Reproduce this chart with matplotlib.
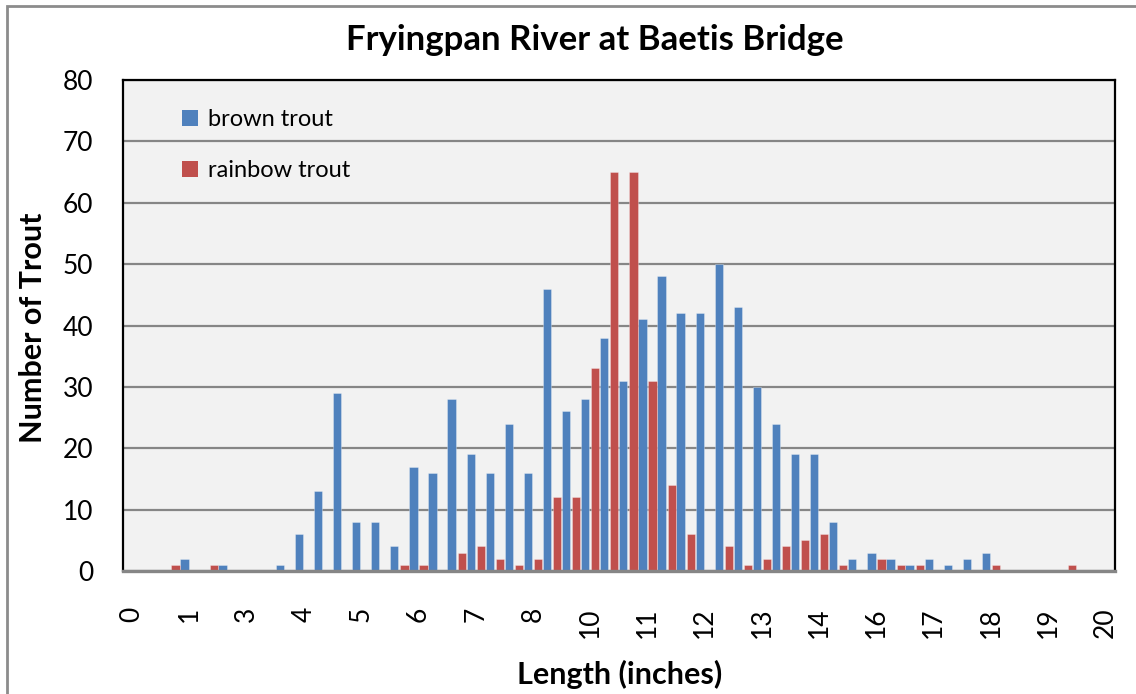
import matplotlib
matplotlib.use("Agg")
import matplotlib.pyplot as plt
from matplotlib.patches import Rectangle, Patch
import numpy as np

plt.rcParams['font.family'] = ['Lato', 'DejaVu Sans']

# 52 one-centimetre length classes (shown in inches), one bar pair per class
brown_trout = [0, 0, 0, 2, 0, 1, 0, 0, 1, 6,
               13, 29, 8, 8, 4, 17, 16, 28, 19, 16,
               24, 16, 46, 26, 28, 38, 31, 41, 48, 42,
               42, 50, 43, 30, 24, 19, 19, 8, 2, 3,
               2, 1, 2, 1, 2, 3, 0, 0, 0, 0,
               0, 0]
rainbow_trout = [0, 0, 1, 0, 1, 0, 0, 0, 0, 0,
                 0, 0, 0, 0, 1, 1, 0, 3, 4, 2,
                 1, 2, 12, 12, 33, 65, 65, 31, 14, 6,
                 0, 4, 1, 2, 4, 5, 6, 1, 0, 2,
                 1, 1, 0, 0, 0, 1, 0, 0, 0, 1,
                 0, 0]
# labels shown on every third class
tick_labels = ["0", "1", "3", "4", "5", "6", "7", "8", "10", "11",
               "12", "13", "14", "16", "17", "18", "19", "20"]
series_names = ["brown trout", "rainbow trout"]

BLUE = "#4F81BD"
RED = "#C0504D"

W, H = 1136, 694
fig = plt.figure(figsize=(W / 100, H / 100), dpi=100)
fig.patch.set_facecolor("white")

# chart-area border
fig.patches.append(Rectangle((7 / W, -0.05), 1.2, 1 - 6 / H + 0.05,
                             transform=fig.transFigure, fill=False,
                             edgecolor="#8C8C8C", linewidth=2.0))

left, right, top, bottom = 122.7, 1115, 80, 571
ax = fig.add_axes([left / W, 1 - bottom / H, (right - left) / W, (bottom - top) / H])
ax.set_facecolor("#F2F2F2")

n = len(brown_trout)
x = np.arange(n)
bw = 0.43
off = 0.265
edge = (1, 1, 1, 0.35)
ax.bar(x - off, brown_trout, width=bw, color=BLUE, edgecolor=edge, linewidth=0.6,
       zorder=3, label=series_names[0])
ax.bar(x + off, rainbow_trout, width=bw, color=RED, edgecolor=edge, linewidth=0.6,
       zorder=3, label=series_names[1])

ax.set_xlim(-0.5, n - 0.5)
ax.set_ylim(0, 80)
ax.set_yticks(np.arange(0, 81, 10))
ax.yaxis.grid(True, color="#868686", linewidth=1.6, zorder=1)
ax.set_axisbelow(True)

tick_pos = np.arange(0, 3 * len(tick_labels), 3)
ax.set_xticks(tick_pos)
ax.set_xticklabels(tick_labels, rotation=90, va="top", ha="center")
ax.tick_params(axis="x", length=0, pad=26, labelsize=19)
ax.tick_params(axis="y", length=0, pad=21, labelsize=19)

for s in ["left", "top", "right"]:
    ax.spines[s].set_color("black")
    ax.spines[s].set_linewidth(1.6)
ax.spines["bottom"].set_color("#868686")
ax.spines["bottom"].set_linewidth(2.4)
ax.spines["bottom"].set_zorder(4)

fig.text(595 / W, 1 - 40 / H, "Fryingpan River at Baetis Bridge",
         ha="center", va="center", fontsize=25, fontweight="bold")
fig.text(620 / W, 1 - 674 / H, "Length (inches)", ha="center", va="center",
         fontsize=22, fontweight="bold")
fig.text(33 / W, 1 - 328 / H, "Number of Trout", ha="center", va="center",
         rotation=90, fontsize=22, fontweight="bold")

handles = [Patch(facecolor=BLUE), Patch(facecolor=RED)]
ax.legend(handles, series_names, loc="upper left",
          bbox_to_anchor=((182 - left) / (right - left), (bottom - 109) / (bottom - top)),
          frameon=False, fontsize=17, handlelength=0.68, handleheight=0.68,
          handletextpad=0.4, labelspacing=1.29, borderpad=0, borderaxespad=0)

fig.savefig("out.png", dpi=100)
